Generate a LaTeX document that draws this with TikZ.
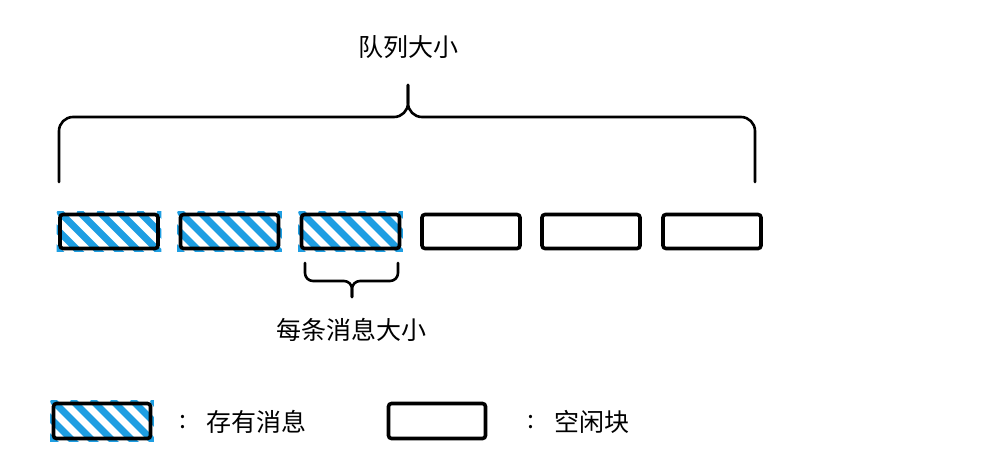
\documentclass[tikz,border=0pt]{standalone}
\usepackage{fontspec}
\newfontfamily\cjk{Noto Sans CJK SC}
\definecolor{hatchblue}{RGB}{30,158,226}
\begin{document}
\begin{tikzpicture}[x=1pt,y=-1pt,
  blk/.style={draw=black,line width=3.6pt,rounded corners=3pt,minimum width=98pt,minimum height=34pt,inner sep=0pt},
  lgblk/.style={blk,minimum width=97pt,minimum height=35pt},
  stripe/.style={draw=hatchblue,line width=7pt,line cap=round},
  brace/.style={draw=black,line width=2.6pt,line cap=round,line join=round},
  lbl/.style={font=\cjk\fontsize{25}{30}\selectfont,inner sep=0pt,text=black}]
\useasboundingbox (0,0) rectangle (986,467);
% hatch helper
\newcommand\hatchit[1]{%
  \begin{scope}
    \clip ([shift={(-1.6,-1.6)}]#1.north west) rectangle ([shift={(1.6,1.6)}]#1.south east);
    \foreach \k in {-2,...,6}
      \draw[stripe] ([xshift=\k*20pt+2pt]#1.north west) -- ++(45,45);
  \end{scope}}
% queue blocks
\node[blk,draw=none] (b1) at (109,231.5) {};
\node[blk,draw=none] (b2) at (229.5,231.5) {};
\node[blk,draw=none] (b3) at (350.5,231.5) {};
\hatchit{b1}\hatchit{b2}\hatchit{b3}
\node[blk] at (b1) {};
\node[blk] at (b2) {};
\node[blk] at (b3) {};
\node[blk] (b4) at (471,231.5) {};
\node[blk] (b5) at (591,231.5) {};
\node[blk] (b6) at (712,231.5) {};
% big brace
\coordinate (BL) at (59,182);
\coordinate (BR) at (755,182);
\coordinate (BM) at (408,117);
\coordinate (BT) at (408,85);
\draw[brace,rounded corners=14pt] (BL) |- (BM) -- (BT);
\draw[brace,rounded corners=14pt] (BR) |- (BM) -- (BT);
\node[lbl] (title) at (408,47) {队列大小};
% small brace
\coordinate (SL) at (305,263);
\coordinate (SR) at (398,263);
\coordinate (SM) at (352,281);
\coordinate (ST) at (352,297);
\draw[brace,rounded corners=8pt] (SL) |- (SM) -- (ST);
\draw[brace,rounded corners=8pt] (SR) |- (SM) -- (ST);
\node[lbl] (msg) at (351,330) {每条消息大小};
% legend
\node[lgblk,draw=none] (l1) at (102,421) {};
\hatchit{l1}
\node[lgblk] at (l1) {};
\node[lbl] (c1) at (183,422) {:};
\node[lbl] (t1) at (256,422) {存有消息};
\node[lgblk] (l2) at (437,421) {};
\node[lbl] (c2) at (531,422) {:};
\node[lbl] (t2) at (592,422) {空闲块};
\end{tikzpicture}
\end{document}
